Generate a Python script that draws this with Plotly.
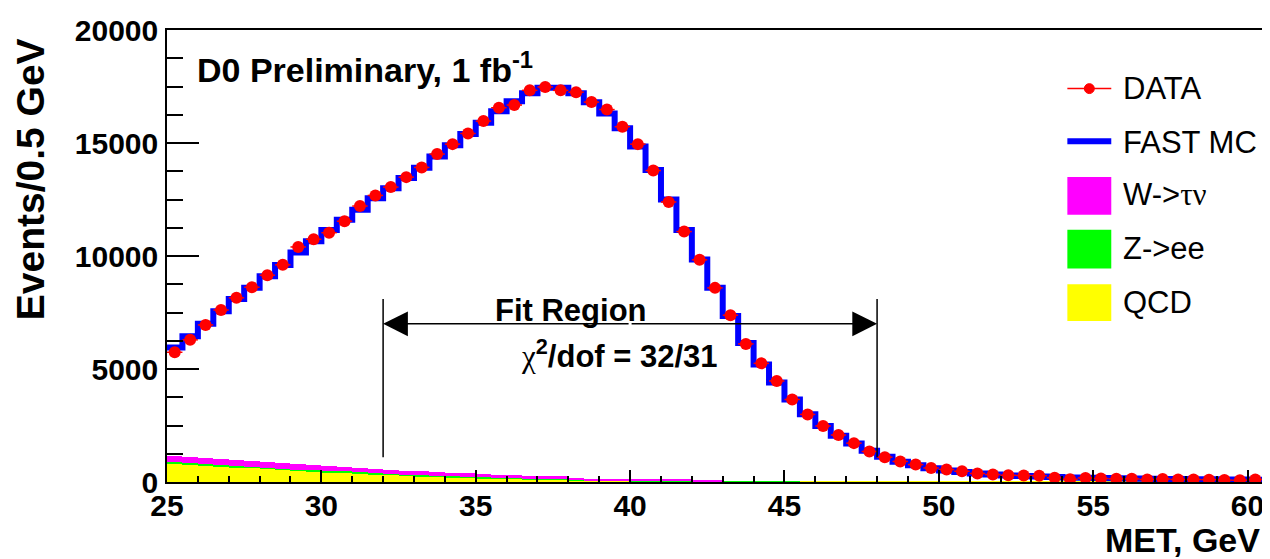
import plotly.graph_objects as go

# ---------------- data ----------------
bin_low = 25.0
bin_width = 0.5
n_bins = 71
bin_centers = [bin_low + bin_width * (i + 0.5) for i in range(n_bins)]
bin_edges = [bin_low + bin_width * i for i in range(n_bins + 1)]

data_vals = [5740, 6290, 6950, 7610, 8150, 8620, 9150, 9610, 10400, 10740,
             11030, 11540, 12210, 12680, 13050, 13490, 13920, 14510, 14950, 15420,
             15970, 16560, 16680, 17330, 17480, 17330, 17250, 16810, 16480, 15720,
             14950, 13780, 12390, 11080, 9830, 8590, 7380, 6110, 5250, 4470,
             3650, 2990, 2480, 2080, 1720, 1350, 1100, 910, 770, 620,
             550, 475, 375, 330, 300, 285, 280, 190, 120, 180,
             155, 140, 140, 110, 135, 110, 110, 105, 85, 80, 110]

mc_vals = [5950, 6450, 7000, 7550, 8100, 8600, 9100, 9600, 10150, 10650,
           11150, 11600, 12050, 12550, 13000, 13450, 13900, 14400, 14900, 15400,
           15900, 16400, 16850, 17200, 17450, 17450, 17200, 16800, 16300, 15650,
           14850, 13800, 12500, 11150, 9850, 8600, 7350, 6150, 5200, 4400,
           3650, 3000, 2480, 2050, 1700, 1380, 1120, 900, 740, 610,
           510, 440, 380, 330, 290, 260, 240, 220, 200, 190,
           175, 165, 155, 145, 135, 130, 125, 120, 115, 110, 105]

qcd_vals = [830, 790, 740, 700, 660, 620, 580, 545, 505, 470,
            435, 405, 375, 345, 315, 290, 265, 240, 215, 195,
            175, 155, 140, 120, 105, 90, 60, 55, 50, 45,
            42, 40, 38, 36, 34, 32, 30, 29, 28, 27,
            26, 26, 25, 25, 24, 24, 23, 23, 22, 22,
            21, 21, 20, 20, 20, 19, 19, 19, 18, 18,
            18, 17, 17, 17, 16, 16, 16, 15, 15, 15, 15]

zee_vals = [60, 58, 56, 55, 54, 52, 50, 50, 48, 47,
            60, 62, 46, 42, 40, 39, 38, 36, 35, 33,
            32, 30, 28, 27, 40, 45, 38, 20, 18, 16,
            30, 28, 12, 10, 8, 6, 5, 4, 3, 2,
            1, 0, 0, 0, 0, 0, 0, 0, 0, 0,
            0, 0, 0, 0, 0, 0, 0, 0, 0, 0,
            0, 0, 0, 0, 0, 0, 0, 0, 0, 0, 0]

wtau_vals = [280, 275, 270, 262, 255, 248, 240, 233, 226, 220,
             213, 206, 200, 193, 187, 180, 174, 168, 162, 156,
             150, 145, 140, 135, 128, 120, 80, 70, 65, 60,
             58, 55, 60, 60, 55, 40, 0, 0, 0, 0,
             0, 0, 0, 0, 0, 0, 0, 0, 0, 0,
             0, 0, 0, 0, 0, 0, 0, 0, 0, 0,
             0, 0, 0, 0, 0, 0, 0, 0, 0, 0, 0]

x_ticks = [25, 30, 35, 40, 45, 50, 55, 60]
y_ticks = [0, 5000, 10000, 15000, 20000]

fit_lo, fit_hi = 32, 48
fit_arrow_y = 7000
fit_line_top, fit_line_bottom = 8100, 1100
fit_mid = 40

# ---------------- style ----------------
FONT = "Liberation Sans, Arial, sans-serif"
OFF = 8                      # page body margin
PAGE_W, PAGE_H = 1270, 559
W, H = PAGE_W - OFF, PAGE_H - OFF
# plot frame in page pixels: left 167, right 1265, top 27, bottom 482
ML = 167 - OFF
MT = 27 - OFF
MR = PAGE_W - 1265
MB = PAGE_H - 482
PW, PH = W - ML - MR, H - MT - MB


def px(xp):
    return (xp - OFF - ML) / PW


def py(yp):
    return (H - MB - (yp - OFF)) / PH


fig = go.Figure()

fig.add_trace(go.Bar(x=bin_centers, y=qcd_vals, name="QCD", marker=dict(color="#ffff00", line=dict(width=0)), showlegend=False))
fig.add_trace(go.Bar(x=bin_centers, y=zee_vals, name="Z->ee", marker=dict(color="#00ff00", line=dict(width=0)), showlegend=False))
fig.add_trace(go.Bar(x=bin_centers, y=wtau_vals, name="W->τν", marker=dict(color="#ff00ff", line=dict(width=0)), showlegend=False))

fig.add_trace(go.Scatter(x=bin_edges, y=mc_vals + [mc_vals[-1]], mode="lines", line_shape="hv",
                         line=dict(color="#0000ff", width=6), name="FAST MC", showlegend=False))

fig.add_trace(go.Scatter(x=bin_centers, y=data_vals, mode="markers", name="DATA",
                         marker=dict(color="#ff0000", size=12, symbol="circle"),
                         error_x=dict(type="constant", value=bin_width / 2, color="#ff0000", thickness=1.5, width=0),
                         showlegend=False))

shapes = []
annotations = []

# fit region
for xv in (fit_lo, fit_hi):
    shapes.append(dict(type="line", xref="x", yref="y", x0=xv, x1=xv, y0=fit_line_bottom, y1=fit_line_top,
                       line=dict(color="black", width=1.5)))
for xv in (fit_lo, fit_hi):
    annotations.append(dict(x=xv, y=fit_arrow_y, ax=fit_mid, ay=fit_arrow_y, xref="x", yref="y", axref="x", ayref="y",
                            text="", showarrow=True, arrowhead=2, arrowsize=3.3, arrowwidth=1.5, arrowcolor="black",
                            standoff=0, startstandoff=0))
annotations.append(dict(x=px(572), y=py(309), xref="paper", yref="paper", text="<b>Fit Region</b>", showarrow=False,
                        font=dict(family=FONT, size=31, color="black"), xanchor="center", yanchor="middle"))
annotations.append(dict(x=px(620), y=py(353), xref="paper", yref="paper",
                        text="<span style=\"font-family:'Liberation Serif'\">χ</span><b><sup>2</sup>/dof = 32/31</b>",
                        showarrow=False, font=dict(family=FONT, size=31, color="black"), xanchor="center", yanchor="middle"))

# header text
annotations.append(dict(x=px(195), y=py(65), xref="paper", yref="paper", text="<b>D0 Preliminary, 1 fb<sup>-1</sup></b>",
                        showarrow=False, font=dict(family=FONT, size=34, color="black"), xanchor="left", yanchor="middle"))

# axis titles
annotations.append(dict(x=px(31), y=py(33), xref="paper", yref="paper", text="<b>Events/0.5 GeV</b>", textangle=-90,
                        showarrow=False, font=dict(family=FONT, size=39, color="black"), xanchor="center", yanchor="top"))
annotations.append(dict(x=px(1264), y=py(540), xref="paper", yref="paper", text="<b>MET, GeV</b>",
                        showarrow=False, font=dict(family=FONT, size=34, color="black"), xanchor="right", yanchor="middle"))

# legend (drawn manually)
leg_x0, leg_x1, leg_tx = 1069, 1113, 1123
leg_items = [("DATA", 86), ("FAST MC", 140), ("W->τν", 193), ("Z->ee", 247), ("QCD", 301)]
shapes.append(dict(type="line", xref="paper", yref="paper", x0=px(leg_x0), x1=px(leg_x1), y0=py(86), y1=py(86),
                   line=dict(color="#ff0000", width=1.5)))
shapes.append(dict(type="circle", xref="paper", yref="paper", x0=px(1086), x1=px(1096), y0=py(91), y1=py(81),
                   fillcolor="#ff0000", line=dict(color="#ff0000", width=1)))
shapes.append(dict(type="line", xref="paper", yref="paper", x0=px(leg_x0), x1=px(leg_x1), y0=py(139), y1=py(139),
                   line=dict(color="#0000ff", width=6)))
for col, (ya, yb) in zip(["#ff00ff", "#00ff00", "#ffff00"], [(175, 213), (228, 267), (283, 320)]):
    shapes.append(dict(type="rect", xref="paper", yref="paper", x0=px(leg_x0), x1=px(leg_x1), y0=py(yb), y1=py(ya),
                       fillcolor=col, line=dict(width=0)))
for label, yc in leg_items:
    if label == "W->τν":
        txt = "W-><span style=\"font-family:'Liberation Serif'\">τν</span>"
    else:
        txt = label
    annotations.append(dict(x=px(leg_tx), y=py(yc), xref="paper", yref="paper", text=txt, showarrow=False,
                            font=dict(family=FONT, size=31, color="black"), xanchor="left", yanchor="middle"))

fig.update_layout(
    width=W, height=H,
    margin=dict(l=ML, r=MR, t=MT, b=MB, pad=0),
    paper_bgcolor="white", plot_bgcolor="white",
    barmode="stack", bargap=0,
    showlegend=False,
    shapes=shapes, annotations=annotations,
    font=dict(family=FONT, color="black"),
)

fig.update_xaxes(range=[25, 60.5], tickvals=x_ticks, tickformat="d", ticks="inside", ticklen=12, tickwidth=1.5,
                 tickcolor="black",
                 minor=dict(ticks="inside", ticklen=6, dtick=1, tickwidth=1.5, tickcolor="black", tick0=25),
                 showline=True, linecolor="black", linewidth=1.5, mirror=True, showgrid=False, zeroline=False,
                 tickfont=dict(family=FONT, size=30, color="black", weight="bold"), ticklabelstandoff=-4)
fig.update_yaxes(range=[0, 20000], tickvals=y_ticks, tickformat="d", ticks="inside", ticklen=32, tickwidth=1.5,
                 tickcolor="black",
                 minor=dict(ticks="inside", ticklen=16, dtick=1250, tick0=0, tickwidth=1.5, tickcolor="black"),
                 showline=True, linecolor="black", linewidth=1.5, mirror=True, showgrid=False, zeroline=False,
                 tickfont=dict(family=FONT, size=30, color="black", weight="bold"), ticklabelstandoff=1)

fig.write_html("out.html")
